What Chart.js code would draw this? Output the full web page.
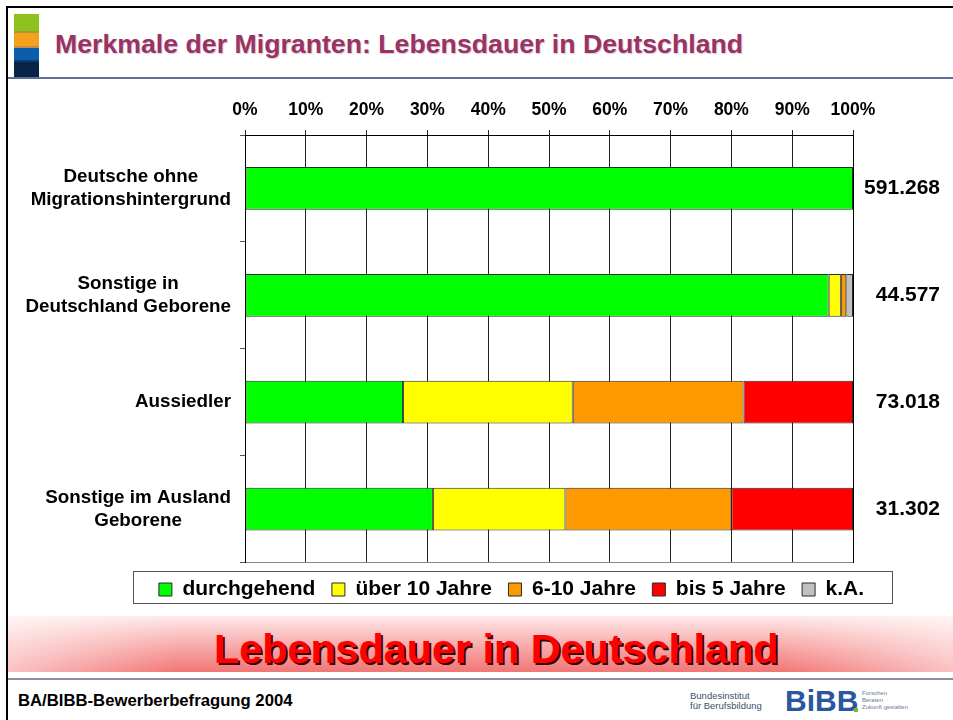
<!DOCTYPE html>
<html lang="de">
<head>
<meta charset="utf-8">
<title>Lebensdauer in Deutschland</title>
<script src="https://cdn.jsdelivr.net/npm/chart.js@4.4.1/dist/chart.umd.min.js"></script>
<style>
  html, body { margin: 0; padding: 0; background: #fff; }
  body { width: 953px; height: 720px; position: relative; overflow: hidden; font-family: "Liberation Sans", Arial, sans-serif; }
  .frame { position: absolute; left: 6px; top: 6px; width: 1000px; height: 800px; border-left: 2px solid #000; border-top: 2px solid #000; }
  .logo { position: absolute; left: 14px; top: 14px; width: 25px; }
  .logo div { width: 25px; }
  .title { position: absolute; left: 55px; top: 31px; font-size: 26.7px; line-height: 26px; font-weight: bold; color: #993366; white-space: nowrap; text-shadow: 1px 1px 1px #d8c8d0; }
  .hline { position: absolute; left: 8px; top: 77px; width: 945px; height: 2px; background: #5f6f93; }
  .banner { position: absolute; left: 8px; top: 616px; width: 945px; height: 56px;
    background: linear-gradient(to right, rgba(255,255,255,0.55), rgba(255,255,255,0) 18%, rgba(255,255,255,0) 82%, rgba(255,255,255,0.55)),
                linear-gradient(to bottom, #ffeaea 0%, #f9b4b4 45%, #f27676 100%); }
  .banner span { position: absolute; left: 206px; top: 12px; font-size: 41.3px; line-height: 42px; font-weight: bold; color: #ff0000; white-space: nowrap; text-shadow: 2px 2px 0 #3a0000; }
  .fline { position: absolute; left: 8px; top: 678px; width: 945px; height: 2px; background: #8a8fa0; }
  .footer { position: absolute; left: 18px; top: 693px; font-size: 16.7px; line-height: 16.5px; font-weight: bold; color: #000; white-space: nowrap; }
  .bibb { position: absolute; left: 690px; top: 688px; width: 260px; height: 28px; }
  .bibb .small { position: absolute; font-size: 9.5px; line-height: 10px; color: #3d4f70; white-space: nowrap; }
  .bibb .big { position: absolute; left: 95px; top: -3px; font-size: 30px; line-height: 31px; font-weight: bold; color: #2b57a0; }
  .bibb .dot { position: absolute; left: 164px; top: 20px; width: 4px; height: 4px; background: #7cb82f; }
  .bibb .tiny { position: absolute; left: 172px; font-size: 6px; line-height: 7px; color: #6b7890; white-space: nowrap; }
  #wrap { position: absolute; left: 0; top: 85px; width: 953px; height: 525px; }
  .legend-frame { position: absolute; left: 133px; top: 571px; width: 758px; height: 31px; border: 1.5px solid #555; }
</style>
</head>
<body>
<div class="banner"><span>Lebensdauer in Deutschland</span></div>
<div class="frame"></div>
<div class="logo">
  <div style="height:17px;background:#8dc21f"></div>
  <div style="height:2px;background:#a99a30"></div>
  <div style="height:13px;background:#f4a21c"></div>
  <div style="height:2px;background:#c98a4a"></div>
  <div style="height:12px;background:#0b5faa"></div>
  <div style="height:2px;background:#0a3c70"></div>
  <div style="height:16px;background:#0a2448"></div>
</div>
<div class="title">Merkmale der Migranten: Lebensdauer in Deutschland</div>
<div class="hline"></div>
<div class="legend-frame"></div>
<div id="wrap"><canvas id="lebensdauerChart" width="953" height="525"></canvas></div>
<div class="fline"></div>
<div class="footer">BA/BIBB-Bewerberbefragung 2004</div>
<div class="bibb">
  <div class="small" style="left:0;top:3px">Bundesinstitut</div>
  <div class="small" style="left:0;top:13px">für Berufsbildung</div>
  <div class="big">BiBB</div>
  <div class="dot"></div>
  <div class="tiny" style="top:2px">Forschen</div>
  <div class="tiny" style="top:9px">Beraten</div>
  <div class="tiny" style="top:16px">Zukunft gestalten</div>
</div>

<script>
// Kategorien (Zeilen) und Fallzahlen rechts
const categories = [
    ["Deutsche ohne", "Migrationshintergrund"],
    ["Sonstige in", "Deutschland Geborene"],
    ["Aussiedler"],
    ["Sonstige im Ausland", "Geborene"]
];
const totals = ["591.268", "44.577", "73.018", "31.302"];

// Anteile in Prozent je Lebensdauer-Gruppe
const seriesNames = ["durchgehend", "über 10 Jahre", "6-10 Jahre", "bis 5 Jahre", "k.A."];
const durchgehend = [100, 96.0, 26.0, 30.9];
const ueber10Jahre = [null, 2.0, 27.9, 21.8];
const sechsBis10Jahre = [null, 0.9, 28.1, 27.3];
const bis5Jahre = [null, null, 18.0, 20.0];
const keineAngabe = [null, 1.1, null, null];
const seriesColors = ["#00ff00", "#ffff00", "#ff9900", "#ff0000", "#c0c0c0"];

// Achsenbeschriftung oben
const percentTicks = ["0%", "10%", "20%", "30%", "40%", "50%", "60%", "70%", "80%", "90%", "100%"];

const FONT = '"Liberation Sans", Arial, sans-serif';
Chart.defaults.font.family = FONT;
Chart.defaults.color = "#000";

// Zeilenbeschriftung links: Zeilen zentriert, Block rechtsbündig
const rowLabels = {
    id: "rowLabels",
    afterDraw(chart) {
        const scale = chart.scales.y;
        const ctx = chart.ctx;
        ctx.save();
        ctx.font = "bold 18.8px " + FONT;
        ctx.fillStyle = "#000";
        ctx.textAlign = "center";
        ctx.textBaseline = "middle";
        const right = scale.right - 14;
        categories.forEach((lines, i) => {
            const yc = scale.getPixelForTick(i);
            const w = Math.max(...lines.map(t => ctx.measureText(t).width));
            lines.forEach((t, j) => {
                ctx.fillText(t, right - w / 2, yc + (j - (lines.length - 1) / 2) * 23);
            });
        });
        ctx.restore();
    }
};

const allSeries = [durchgehend, ueber10Jahre, sechsBis10Jahre, bis5Jahre, keineAngabe];
const datasets = allSeries.map((values, i) => ({
    label: seriesNames[i],
    data: values,
    backgroundColor: seriesColors[i],
    borderColor: "#2a2a2a",
    borderWidth: 1,
    borderSkipped: false
}));

new Chart(document.getElementById("lebensdauerChart"), {
    type: "bar",
    data: { labels: categories, datasets: datasets },
    plugins: [rowLabels],
    options: {
        indexAxis: "y",
        responsive: false,
        animation: false,
        devicePixelRatio: 1,
        layout: { padding: { left: 83, right: 13, top: 0, bottom: 0 } },
        datasets: { bar: { categoryPercentage: 1, barPercentage: 0.4 } },
        plugins: {
            legend: {
                position: "bottom",
                labels: {
                    boxWidth: 13,
                    boxHeight: 13,
                    padding: 16.5,
                    color: "#000",
                    font: { size: 21, weight: "bold", lineHeight: 1 }
                }
            }
        },
        scales: {
            x: {
                position: "top",
                stacked: true,
                min: 0,
                max: 100,
                ticks: {
                    stepSize: 10,
                    padding: 9,
                    font: { size: 17.5, weight: "bold" },
                    callback: (v, i) => percentTicks[i]
                },
                grid: { color: "#222", tickLength: 5 },
                border: { color: "#000" },
                afterFit: s => { s.height = 50; }
            },
            x2: {
                type: "linear",
                position: "bottom",
                min: 0,
                max: 100,
                ticks: { display: false },
                grid: { display: false, drawTicks: false },
                border: { color: "#888" },
                afterFit: s => { s.height = 0; }
            },
            y: {
                stacked: true,
                ticks: { display: false },
                grid: { offset: true, drawOnChartArea: false, tickLength: 5, color: "#555" },
                border: { color: "#000" },
                afterFit: s => { s.width = 162; }
            },
            y2: {
                type: "category",
                labels: totals,
                position: "right",
                offset: true,
                ticks: { crossAlign: "far", font: { size: 21, weight: "bold" } },
                grid: { display: false, drawTicks: false },
                border: { color: "#000" },
                afterFit: s => { s.width = 87; }
            }
        }
    }
});
</script>
</body>
</html>
